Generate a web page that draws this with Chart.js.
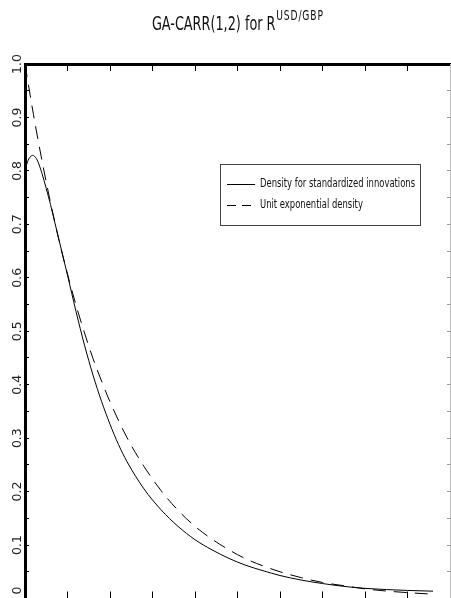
<!DOCTYPE html>
<html>
<head>
<meta charset="utf-8">
<script src="https://cdn.jsdelivr.net/npm/chart.js@4.4.1/dist/chart.umd.min.js"></script>
<style>
html,body{margin:0;padding:0;background:#fff;overflow:hidden;width:451px;height:598px;}
#wrap{position:relative;width:451px;height:598px;}
canvas{position:absolute;left:0;top:0;}
</style>
</head>
<body>
<div id="wrap">
<canvas id="c" width="451" height="600"></canvas>
</div>
<script>
// ---- data ----
const titleMain = 'GA-CARR(1,2) for R';
const titleSup = 'USD/GBP';
const seriesNames = ['Density for standardized innovations', 'Unit exponential density'];

const innovX = [0, 0.03, 0.06, 0.09, 0.12, 0.15, 0.2, 0.25, 0.3, 0.35, 0.4, 0.45, 0.5, 0.6, 0.7, 0.8, 0.9, 1.0, 1.1, 1.2, 1.4, 1.6, 1.8, 2.0, 2.2, 2.4, 2.6, 2.8, 3.0, 3.25, 3.5, 3.75, 4.0, 4.25, 4.5, 4.8];
const innovY = [0.800, 0.817, 0.826, 0.829, 0.826, 0.818, 0.795, 0.767, 0.737, 0.704, 0.671, 0.638, 0.605, 0.537, 0.474, 0.418, 0.369, 0.326, 0.288, 0.256, 0.205, 0.166, 0.135, 0.110, 0.091, 0.075, 0.062, 0.052, 0.043, 0.0345, 0.028, 0.0227, 0.019, 0.0167, 0.0151, 0.0137];

const expX = [0, 0.1, 0.2, 0.3, 0.4, 0.5, 0.6, 0.7, 0.8, 0.9, 1.0, 1.2, 1.4, 1.6, 1.8, 2.0, 2.2, 2.4, 2.6, 2.8, 3.0, 3.25, 3.5, 3.75, 4.0, 4.25, 4.5, 4.8];
const expY = [1.000, 0.905, 0.819, 0.741, 0.670, 0.607, 0.549, 0.497, 0.449, 0.407, 0.368, 0.301, 0.247, 0.202, 0.165, 0.135, 0.111, 0.091, 0.074, 0.061, 0.050, 0.039, 0.030, 0.024, 0.018, 0.014, 0.011, 0.008];

const xRange = [0, 5];
const xTickStep = 0.5;
const yRange = [0, 1];
const yTickStep = 0.05;
const yTickLabels = ['0', '0.1', '0.2', '0.3', '0.4', '0.5', '0.6', '0.7', '0.8', '0.9', '1.0'];

// ---- chart ----
const toPoints = (xs, ys) => xs.map((x, i) => ({x: x, y: ys[i]}));

const supTitle = {
  id: 'supTitle',
  afterDraw(chart, args, o) {
    const ctx = chart.ctx;
    ctx.save();
    ctx.fillStyle = o.color;
    ctx.textBaseline = 'alphabetic';
    ctx.font = o.mainFont;
    const w1 = ctx.measureText(o.main).width;
    ctx.font = o.supFont;
    if ('letterSpacing' in ctx) ctx.letterSpacing = o.supSpacing + 'px';
    const w2 = ctx.measureText(o.sup).width;
    const total = (w1 + w2) * o.scaleX;
    const cx = (chart.chartArea.left + chart.chartArea.right) / 2;
    ctx.translate(cx - total / 2, 0);
    ctx.scale(o.scaleX, 1);
    ctx.font = o.mainFont;
    if ('letterSpacing' in ctx) ctx.letterSpacing = '0px';
    ctx.fillText(o.main, 0, o.baseline);
    ctx.font = o.supFont;
    if ('letterSpacing' in ctx) ctx.letterSpacing = o.supSpacing + 'px';
    ctx.fillText(o.sup, w1 + 1, o.baseline - o.supRaise);
    ctx.restore();
  }
};

const boxLegend = {
  id: 'boxLegend',
  afterDraw(chart, args, opts) {
    const ctx = chart.ctx;
    ctx.save();
    ctx.strokeStyle = opts.borderColor;
    ctx.lineWidth = 1;
    ctx.strokeRect(opts.x + 0.5, opts.y + 0.5, opts.w, opts.h);
    ctx.font = opts.font;
    ctx.fillStyle = opts.color;
    ctx.textBaseline = 'middle';
    chart.data.datasets.forEach((ds, i) => {
      const cy = opts.y + opts.rowStart + i * opts.rowGap;
      ctx.beginPath();
      ctx.setLineDash(opts.dashes[i] || []);
      ctx.lineWidth = ds.borderWidth;
      ctx.strokeStyle = ds.borderColor;
      ctx.moveTo(opts.x + opts.lineStart, Math.round(cy) + 0.5);
      ctx.lineTo(opts.x + opts.lineStart + opts.lineLen, Math.round(cy) + 0.5);
      ctx.stroke();
      ctx.setLineDash([]);
      ctx.save();
      ctx.translate(opts.x + opts.textStart, cy);
      ctx.scale(opts.scaleX, 1);
      ctx.fillText(ds.label, 0, 0);
      ctx.restore();
    });
    ctx.restore();
  }
};

const zeroH = s => { s.height = 0; s.paddingLeft = 0; s.paddingRight = 0; };
const zeroW = s => { s.width = 0; s.paddingTop = 0; s.paddingBottom = 0; };

new Chart(document.getElementById('c'), {
  type: 'line',
  data: {
    datasets: [
      {
        label: seriesNames[0],
        data: toPoints(innovX, innovY),
        borderColor: '#000',
        borderWidth: 1,
        pointRadius: 0,
        cubicInterpolationMode: 'monotone',
        fill: false
      },
      {
        label: seriesNames[1],
        data: toPoints(expX, expY),
        borderColor: '#000',
        borderWidth: 1,
        borderDash: [13, 8],
        pointRadius: 0,
        cubicInterpolationMode: 'monotone',
        fill: false
      }
    ]
  },
  options: {
    responsive: false,
    animation: false,
    clip: false,
    layout: { padding: { top: 64, right: 1, bottom: 1.5, left: 0 } },
    plugins: {
      legend: { display: false },
      tooltip: { enabled: false },
      title: { display: false },
      supTitle: {
        main: titleMain, sup: titleSup,
        mainFont: '19px "DejaVu Sans Condensed", "DejaVu Sans", sans-serif',
        supFont: '13.5px "DejaVu Sans Condensed", "DejaVu Sans", sans-serif',
        supSpacing: 1.2, scaleX: 0.75, baseline: 29.5, supRaise: 10, color: '#111'
      },
      boxLegend: {
        x: 220, y: 164, w: 200, h: 61,
        rowStart: 20, rowGap: 21,
        lineStart: 7, lineLen: 28, textStart: 40,
        dashes: [[], [9, 6]],
        font: '12px "DejaVu Sans Condensed", "DejaVu Sans", sans-serif',
        scaleX: 0.78,
        color: '#111',
        borderColor: '#444'
      }
    },
    scales: {
      x: {
        type: 'linear', position: 'bottom',
        min: xRange[0], max: xRange[1],
        ticks: { display: false, stepSize: xTickStep },
        grid: { drawOnChartArea: false, drawTicks: true, tickLength: -7, color: '#000', lineWidth: 1 },
        border: { display: false },
        afterFit: zeroH
      },
      x2: {
        type: 'linear', position: 'top',
        min: xRange[0], max: xRange[1],
        ticks: { display: false, stepSize: xTickStep },
        grid: { drawOnChartArea: false, drawTicks: true, tickLength: -7, color: '#000', lineWidth: 1 },
        border: { display: true, color: '#000', width: 3 },
        afterFit: zeroH
      },
      y: {
        type: 'linear', position: 'left',
        min: yRange[0], max: yRange[1],
        ticks: {
          stepSize: yTickStep,
          autoSkip: false,
          minRotation: 90, maxRotation: 90,
          crossAlign: 'center',
          padding: -1,
          color: '#222',
          font: { family: '"DejaVu Sans", sans-serif', size: 12.5 },
          callback: v => {
            const k = Math.round(v / yTickStep);
            if (k % 2 !== 0) return '';
            const lab = yTickLabels[k / 2];
            return k === 0 ? '    ' + lab : lab;
          }
        },
        grid: { drawOnChartArea: false, drawTicks: true, tickLength: -4, color: '#000', lineWidth: 1 },
        border: { display: true, color: '#000', width: 3 },
        afterFit: s => { s.width = 25; s.paddingTop = 0; s.paddingBottom = 0; }
      },
      y2: {
        type: 'linear', position: 'right',
        min: yRange[0], max: yRange[1],
        ticks: { display: false, stepSize: yTickStep, autoSkip: false },
        grid: { drawOnChartArea: false, drawTicks: true, tickLength: -3, color: '#999', lineWidth: 1 },
        border: { display: true, color: '#bbb', width: 1 },
        afterFit: zeroW
      }
    }
  },
  plugins: [supTitle, boxLegend]
});
</script>
</body>
</html>
